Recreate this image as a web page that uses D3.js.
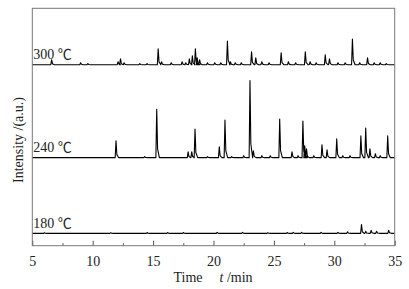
<!DOCTYPE html>
<html lang="en">
<head>
  <meta charset="UTF-8">
  <title>Chromatograms at 180, 240 and 300 ℃</title>
  <script src="https://d3js.org/d3.v7.min.js"></script>
  <style>
    body {
      margin: 0;
      background: #fff;
    }
    svg {
      display: block;
      font-family: "Liberation Serif", "Noto Sans CJK SC", serif;
    }
  </style>
</head>
<body>
  <svg width="409" height="289"></svg>

  <script>
    // Peak lists: [time (min), height (a.u.)]
    const peaks300 = [
      [6.6, 5], [9.0, 2], [9.6, 1], [12.1, 3], [12.3, 6], [12.6, 2], [13.9, 1], [14.5, 1],
      [15.42, 16], [15.7, 3], [16.5, 2], [17.4, 3], [17.7, 2], [18.0, 6], [18.25, 9],
      [18.5, 16], [18.65, 7], [18.85, 5], [19.5, 2], [20.1, 2], [20.6, 2], [21.15, 24],
      [21.4, 3], [21.8, 2], [22.3, 2], [23.15, 13], [23.5, 7], [24.0, 3], [24.6, 2],
      [25.6, 12], [26.2, 3], [26.8, 2], [27.6, 13], [28.0, 3], [28.5, 2], [29.25, 10],
      [29.6, 6], [30.3, 2], [30.9, 2], [31.5, 26], [32.1, 2], [32.75, 7], [33.3, 2],
      [33.8, 2], [34.3, 1]
    ];
    const peaks240 = [
      [11.93, 17], [14.3, 1], [15.3, 49], [17.9, 6], [18.2, 6], [18.47, 29], [19.5, 1],
      [20.48, 11], [20.95, 38], [21.5, 1], [22.5, 2], [23.02, 78], [23.3, 7], [24.0, 2],
      [24.7, 2], [25.48, 39], [26.5, 6], [27.0, 2], [27.4, 37], [27.55, 12], [27.7, 9],
      [28.3, 2], [28.98, 13], [29.4, 8], [30.2, 19], [30.7, 2], [31.3, 2], [32.2, 22],
      [32.6, 30], [32.95, 9], [33.4, 4], [33.8, 2], [34.42, 22]
    ];
    const peaks180 = [
      [6.0, 0.5], [11.5, 0.5], [14.5, 0.8], [16.2, 0.8], [17.5, 0.8], [20.3, 1],
      [22.4, 1], [24.5, 0.5], [26.1, 0.8], [26.6, 1], [27.3, 1], [28.9, 1], [30.3, 1],
      [31.1, 1.5], [32.25, 9], [32.6, 2], [33.05, 3], [33.5, 2], [34.5, 3]
    ];
    const seriesLabels = ["300 ℃", "240 ℃", "180 ℃"];
    const majorTicks = [5, 10, 15, 20, 25, 30, 35];
    const minorTicks = [7.5, 12.5, 17.5, 22.5, 27.5, 32.5];

    const svg = d3.select("svg"),
          margin = { top: 8.3, right: 14.3, bottom: 43.3, left: 32.3 },
          width = 409 - margin.left - margin.right,
          height = 289 - margin.top - margin.bottom;

    const g = svg.append("g")
      .attr("transform", `translate(${margin.left},${margin.top})`);

    const x = d3.scaleLinear().domain([5, 35]).range([0, width]);
    const y = d3.scaleLinear().domain([0, 240]).range([height, 0]);

    // stacked traces: vertical offset for each temperature
    const traces = [
      { peaks: peaks300, offset: 183, label: seriesLabels[0] },
      { peaks: peaks240, offset: 89, label: seriesLabels[1] },
      { peaks: peaks180, offset: 12.5, label: seriesLabels[2] }
    ];

    // turn a peak list into a spiky line with a short tail
    function tracePoints(peaks) {
      const pts = [[5, 0]];
      peaks.forEach(([t, h]) => {
        pts.push([t - 0.07, 0], [t, h], [t + 0.07, h * 0.18], [t + 0.22, 0]);
      });
      pts.push([35, 0]);
      return pts;
    }

    const line = d3.line()
      .x(d => x(d[0]))
      .y(d => y(d[1]));

    traces.forEach(tr => {
      g.append("path")
        .datum(tracePoints(tr.peaks).map(p => [p[0], p[1] + tr.offset]))
        .attr("fill", "none")
        .attr("stroke", "#000")
        .attr("stroke-width", 1.1)
        .attr("stroke-linejoin", "round")
        .attr("d", line);

      g.append("text")
        .attr("x", 1)
        .attr("y", y(tr.offset) - 5.5)
        .attr("font-size", 14)
        .attr("fill", "#222")
        .text(tr.label);
    });

    // bottom axis, ticks pointing inward
    const xAxis = g.append("g")
      .attr("transform", `translate(0,${height})`)
      .call(d3.axisBottom(x).tickValues(majorTicks).tickSizeInner(-5).tickSizeOuter(0).tickPadding(10))
      .attr("font-family", "Liberation Serif")
      .attr("font-size", 14);
    xAxis.select(".domain").remove();
    xAxis.selectAll(".tick line").attr("stroke", "#555");
    xAxis.selectAll(".tick text").attr("fill", "#222");

    const xMinor = g.append("g")
      .attr("transform", `translate(0,${height})`)
      .call(d3.axisBottom(x).tickValues(minorTicks).tickSizeInner(-2.5).tickSizeOuter(0).tickFormat(""));
    xMinor.select(".domain").remove();
    xMinor.selectAll(".tick line").attr("stroke", "#555");

    // frame
    g.append("rect")
      .attr("width", width)
      .attr("height", height)
      .attr("fill", "none")
      .attr("stroke", "#777")
      .attr("stroke-width", 1);

    // axis titles
    const xt = svg.append("text")
      .attr("x", 173.5)
      .attr("y", 281.5)
      .attr("font-size", 14)
      .attr("fill", "#222");
    xt.append("tspan").text("Time");
    xt.append("tspan").attr("dx", 17).attr("font-style", "italic").text("t");
    xt.append("tspan").text(" /min");

    svg.append("text")
      .attr("transform", "translate(23,140) rotate(-90)")
      .attr("text-anchor", "middle")
      .attr("font-size", 14)
      .attr("fill", "#222")
      .text("Intensity /(a.u.)");
  </script>
</body>
</html>
